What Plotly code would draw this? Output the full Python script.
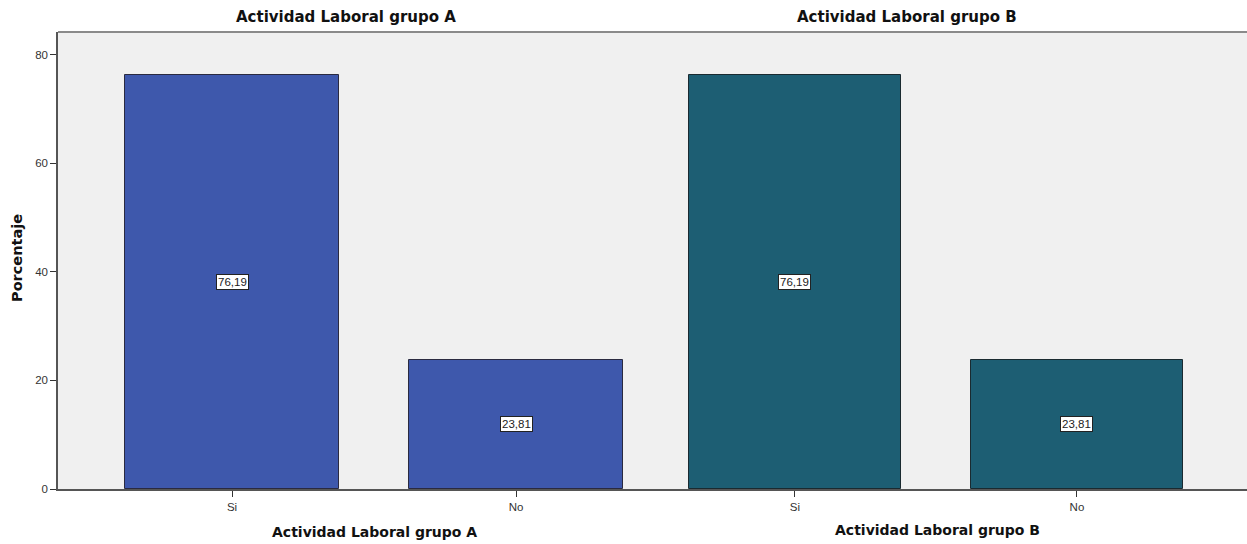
import plotly.graph_objects as go

# Labour activity percentages for the two groups
categories = ["Si", "No"]
group_a = [76.19, 23.81]
group_b = [76.19, 23.81]
titles = ["Actividad Laboral grupo A", "Actividad Laboral grupo B"]
y_ticks = [0, 20, 40, 60, 80]

FONT = "Arial, Liberation Sans, sans-serif"
TITLE_FONT = "DejaVu Sans, Arial, sans-serif"
W, H = 1247, 544
ML, MR, MT, MB = 58, 0, 32, 55
PW = W - ML - MR
PH = H - MT - MB
split = (677 - ML) / PW


def fmt(v):
    return f"{v:.2f}".replace(".", ",")


def px_x(p):
    return (p - ML) / PW


def px_y(p):
    return 1 - (p - MT) / PH


fig = go.Figure()
fig.add_trace(go.Bar(
    x=categories, y=group_a, width=0.753, xaxis="x", yaxis="y",
    marker=dict(color="#3e58ac", line=dict(color="#2a2a40", width=1)),
    hoverinfo="skip", showlegend=False,
))
fig.add_trace(go.Bar(
    x=categories, y=group_b, width=0.752, xaxis="x2", yaxis="y2",
    marker=dict(color="#1d5e73", line=dict(color="#1a2a30", width=1)),
    hoverinfo="skip", showlegend=False,
))

annotations = []
for xa, vals in (("x", group_a), ("x2", group_b)):
    for c, v in zip(categories, vals):
        annotations.append(dict(
            x=c, y=v / 2, xref=xa, yref="y", text=fmt(v), showarrow=False,
            xanchor="center", yanchor="middle",
            font=dict(family=FONT, size=11.5, color="#222"),
            bgcolor="white", bordercolor="#222", borderwidth=1, borderpad=1,
        ))

# panel titles and axis titles
def label(px, py, text, size, angle=0):
    return dict(x=px_x(px), y=px_y(py), xref="paper", yref="paper",
                text=f"<b>{text}</b>", showarrow=False, textangle=angle,
                xanchor="center", yanchor="middle",
                font=dict(family=TITLE_FONT, size=size, color="#111"))


annotations += [
    label(346, 17, titles[0], 15),
    label(907, 17, titles[1], 15),
    label(374, 532, titles[0], 14),
    label(937, 530, titles[1], 14),
    label(17, 258, "Porcentaje", 14.5, -90),
]

yr = [0, 84.2]
axis_font = dict(family=FONT, size=11.5, color="#333")

fig.update_layout(
    width=W, height=H,
    margin=dict(l=ML, r=MR, t=MT, b=MB),
    paper_bgcolor="white",
    plot_bgcolor="#f0f0f0",
    bargap=0,
    xaxis=dict(domain=[0, split], range=[-0.613, 1.567], showgrid=False,
               showline=True, linecolor="#555", linewidth=1.5,
               ticks="outside", ticklen=6, tickcolor="#333", tickfont=axis_font,
               fixedrange=True),
    xaxis2=dict(domain=[split, 1], range=[-0.418, 1.603], showgrid=False,
                showline=True, linecolor="#555", linewidth=1.5, anchor="y2",
                ticks="outside", ticklen=6, tickcolor="#333", tickfont=axis_font,
                fixedrange=True),
    yaxis=dict(range=yr, tickvals=y_ticks, showgrid=False, zeroline=False,
               showline=True, linecolor="#555", linewidth=1.5,
               ticks="outside", ticklen=6, tickcolor="#333", tickfont=axis_font,
               fixedrange=True),
    yaxis2=dict(range=yr, anchor="x2", showgrid=False, zeroline=False,
                showticklabels=False, showline=False, fixedrange=True),
    annotations=annotations,
    shapes=[dict(type="line", xref="paper", yref="paper", x0=0, x1=1, y0=1, y1=1,
                 line=dict(color="#8a8a8a", width=2))],
)

fig.write_html("out.html")
